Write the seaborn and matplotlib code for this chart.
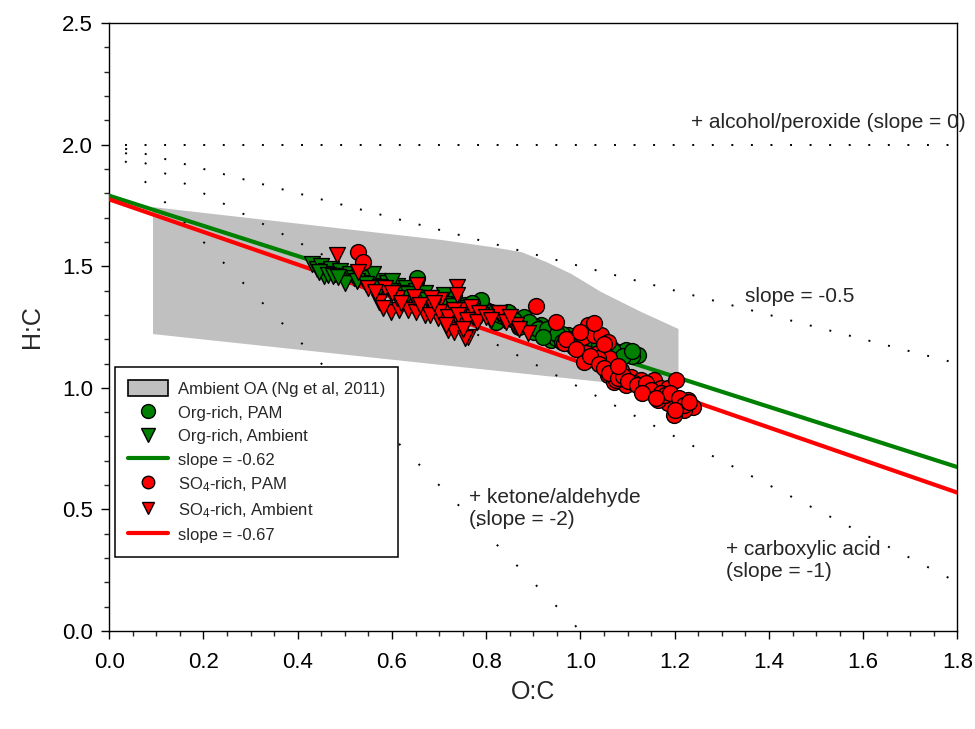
import numpy as np
import pandas as pd
import matplotlib
matplotlib.use("Agg")
import matplotlib.pyplot as plt
import seaborn as sns
from matplotlib.patches import Patch
from matplotlib.lines import Line2D
from matplotlib.ticker import MultipleLocator, FormatStrFormatter

# ---------------- data ----------------
# Ambient OA region (Ng et al, 2011)
region_oc = [0.093, 0.705, 0.811, 0.875, 0.928, 0.981, 1.044, 1.129, 1.208, 1.208, 0.705, 0.093]
region_hc = [1.743, 1.608, 1.579, 1.558, 1.517, 1.468, 1.394, 1.312, 1.242, 0.991, 1.094, 1.221]

# Van Krevelen reference lines from (0, 2)
ref_slopes = [0.0, -0.5, -1.0, -2.0]
ref_xend = [1.8, 1.8, 1.8, 1.0]
ref_origin_hc = 2.0

# Org-rich, PAM
org_pam_oc = [0.654, 0.731, 0.799, 0.820, 0.848, 0.867, 0.890, 0.901, 0.916, 0.931,
              0.937, 0.952, 0.973, 0.990, 1.018, 1.043, 1.079, 1.101, 1.122, 0.922,
              0.986, 1.022, 0.846, 0.873, 0.948, 1.065, 1.096, 1.043, 0.788, 0.756,
              0.840, 0.880, 0.960, 1.000, 1.060, 0.905, 1.110,
              0.770, 0.810, 0.830, 0.860, 0.890, 0.910, 0.930, 0.950, 0.970, 0.980,
              1.000, 1.020, 1.040, 1.050, 1.070, 1.090, 1.110, 0.870, 0.920, 0.960]
org_pam_hc = [1.451, 1.382, 1.320, 1.271, 1.308, 1.271, 1.258, 1.229, 1.258, 1.217,
              1.197, 1.205, 1.217, 1.176, 1.176, 1.164, 1.147, 1.143, 1.135, 1.225,
              1.168, 1.155, 1.312, 1.266, 1.205, 1.164, 1.155, 1.135, 1.361, 1.340,
              1.290, 1.290, 1.220, 1.200, 1.140, 1.250, 1.130,
              1.350, 1.310, 1.300, 1.280, 1.270, 1.240, 1.240, 1.220, 1.190, 1.200,
              1.180, 1.160, 1.180, 1.150, 1.150, 1.130, 1.150, 1.250, 1.210, 1.190]

# Org-rich, Ambient
org_amb_oc = [0.430, 0.440, 0.450, 0.460, 0.455, 0.470, 0.480, 0.490, 0.500, 0.510,
              0.520, 0.530, 0.540, 0.550, 0.560, 0.570, 0.580, 0.590, 0.600, 0.610,
              0.620, 0.630, 0.640, 0.650, 0.660, 0.670, 0.680, 0.700, 0.720, 0.740,
              0.760, 0.780, 0.630, 0.560, 0.600, 0.500, 0.660, 0.710,
              0.445, 0.465, 0.475, 0.485, 0.525, 0.545, 0.575, 0.595, 0.615, 0.635,
              0.655, 0.675, 0.690, 0.710, 0.730, 0.750, 0.770, 0.790]
org_amb_hc = [1.510, 1.490, 1.500, 1.480, 1.460, 1.490, 1.470, 1.480, 1.460, 1.470,
              1.450, 1.460, 1.440, 1.450, 1.430, 1.440, 1.420, 1.430, 1.410, 1.420,
              1.400, 1.410, 1.390, 1.400, 1.380, 1.390, 1.370, 1.360, 1.340, 1.330,
              1.310, 1.300, 1.370, 1.470, 1.440, 1.430, 1.360, 1.380,
              1.475, 1.465, 1.460, 1.455, 1.440, 1.425, 1.415, 1.400, 1.390, 1.385,
              1.370, 1.360, 1.350, 1.345, 1.335, 1.320, 1.315, 1.300]

# SO4-rich, PAM
so4_pam_oc = [0.527, 0.538, 0.905, 0.948, 0.965, 1.016, 1.005, 1.028, 1.043, 1.058,
              1.011, 1.037, 1.060, 1.058, 1.086, 1.107, 1.071, 1.096, 1.128, 1.135,
              1.156, 1.171, 1.186, 1.203, 1.192, 1.207, 1.209, 1.228, 1.239, 1.220,
              1.198, 1.186, 1.164, 1.007, 1.037, 1.113, 1.075, 1.028,
              0.970, 0.990, 1.020, 1.040, 1.050, 1.060, 1.080, 1.090, 1.100, 1.120,
              1.140, 1.150, 1.170, 1.180, 1.190, 1.210, 1.220, 1.200, 1.230, 1.050,
              1.080, 1.000, 1.130, 1.160]
so4_pam_hc = [1.558, 1.517, 1.336, 1.271, 1.184, 1.258, 1.209, 1.217, 1.217, 1.188,
              1.143, 1.143, 1.123, 1.053, 1.073, 1.044, 1.024, 1.012, 1.032, 0.999,
              1.032, 0.999, 0.999, 1.032, 0.962, 0.950, 0.921, 0.950, 0.921, 0.909,
              0.888, 0.938, 0.950, 1.106, 1.123, 1.020, 1.032, 1.266,
              1.200, 1.160, 1.130, 1.100, 1.080, 1.060, 1.040, 1.050, 1.030, 1.010,
              1.020, 0.990, 0.980, 0.970, 0.980, 0.960, 0.930, 0.910, 0.940, 1.180,
              1.090, 1.230, 0.980, 0.960]

# SO4-rich, Ambient
so4_amb_oc = [0.484, 0.529, 0.550, 0.586, 0.572, 0.597, 0.614, 0.633, 0.650, 0.654,
              0.646, 0.671, 0.686, 0.703, 0.697, 0.718, 0.729, 0.739, 0.752, 0.752,
              0.771, 0.782, 0.761, 0.824, 0.837, 0.858, 0.888, 0.739, 0.682, 0.688,
              0.720, 0.731, 0.767, 0.784, 0.710, 0.742, 0.720, 0.731, 0.756, 0.739,
              0.827, 0.841, 0.863, 0.565, 0.610, 0.580,
              0.600, 0.620, 0.660, 0.680, 0.700, 0.720, 0.740, 0.760, 0.780, 0.800,
              0.690, 0.750, 0.715, 0.810, 0.850, 0.870]
so4_amb_hc = [1.546, 1.476, 1.410, 1.410, 1.352, 1.312, 1.320, 1.320, 1.312, 1.423,
              1.373, 1.299, 1.332, 1.361, 1.287, 1.312, 1.271, 1.320, 1.258, 1.320,
              1.291, 1.308, 1.209, 1.308, 1.279, 1.258, 1.225, 1.414, 1.369, 1.332,
              1.308, 1.320, 1.332, 1.308, 1.279, 1.270, 1.238, 1.230, 1.205, 1.382,
              1.308, 1.271, 1.258, 1.395, 1.370, 1.330,
              1.390, 1.350, 1.340, 1.300, 1.310, 1.290, 1.300, 1.280, 1.270, 1.290,
              1.350, 1.240, 1.260, 1.280, 1.290, 1.240]

# linear fits
fit_oc = [0.0, 1.8]
org_fit_slope, org_fit_int = -0.62, 1.79
so4_fit_slope, so4_fit_int = -0.67, 1.775

legend_labels = ["Ambient OA (Ng et al, 2011)", "Org-rich, PAM", "Org-rich, Ambient",
                 "slope = -0.62", "SO$_4$-rich, PAM", "SO$_4$-rich, Ambient", "slope = -0.67"]

# ---------------- style ----------------
sns.set_theme(style="ticks")
plt.rcParams["font.family"] = ["Liberation Sans", "DejaVu Sans"]
plt.rcParams["mathtext.default"] = "regular"
plt.rcParams["axes.linewidth"] = 1.0

GREEN = "#008000"
RED = "#FF0000"
GRAY = "#C0C0C0"

fig = plt.figure(figsize=(9.75, 7.29), dpi=100)
ax = fig.add_axes([0.112, 0.1344, 0.870, 0.834])

# region
ax.fill(region_oc, region_hc, color=GRAY, lw=0, zorder=1)

# reference dotted lines
k = (0.834 * 729 / 2.5) / (0.870 * 975 / 1.8)
lw_dot = 1.4
for sl, xe in zip(ref_slopes, ref_xend):
    fac = np.sqrt(1 + (sl * k) ** 2)
    period_pt = 19.56 * fac * 0.72
    first_pt = 16.0 * fac * 0.72
    on = 1.0
    off = period_pt / lw_dot - on
    offset = (period_pt - first_pt) / lw_dot
    xs = np.array([0.0, xe])
    ax.plot(xs, ref_origin_hc + sl * xs, color="black", lw=lw_dot,
            linestyle=(offset, (on, off)), dash_capstyle="butt", zorder=2)

# fit lines
fx = np.array(fit_oc)
sns.lineplot(x=fx, y=org_fit_int + org_fit_slope * fx, color=GREEN, lw=3, ax=ax, zorder=3)
sns.lineplot(x=fx, y=so4_fit_int + so4_fit_slope * fx, color=RED, lw=3, ax=ax, zorder=3)

# scatter
S = 130
sns.scatterplot(x=org_pam_oc, y=org_pam_hc, marker="o", color=GREEN, edgecolor="black",
                linewidth=1, s=S, ax=ax, zorder=4)
sns.scatterplot(x=org_amb_oc, y=org_amb_hc, marker="v", color=GREEN, edgecolor="black",
                linewidth=1, s=S, ax=ax, zorder=5)
sns.scatterplot(x=so4_pam_oc, y=so4_pam_hc, marker="o", color=RED, edgecolor="black",
                linewidth=1, s=S, ax=ax, zorder=6)
sns.scatterplot(x=so4_amb_oc, y=so4_amb_hc, marker="v", color=RED, edgecolor="black",
                linewidth=1, s=S, ax=ax, zorder=7)

# annotations
tfs = 15
ax.text(1.235, 2.093, "+ alcohol/peroxide (slope = 0)", fontsize=tfs, va="center", ha="left")
ax.text(1.349, 1.377, "slope = -0.5", fontsize=tfs, va="center", ha="left")
ax.text(0.763, 0.504, "+ ketone/aldehyde\n(slope = -2)", fontsize=tfs, va="center", ha="left")
ax.text(1.309, 0.292, "+ carboxylic acid\n(slope = -1)", fontsize=tfs, va="center", ha="left")

# axes
ax.set_xlim(0, 1.8)
ax.set_ylim(0, 2.5)
ax.xaxis.set_major_locator(MultipleLocator(0.2))
ax.xaxis.set_minor_locator(MultipleLocator(0.05))
ax.yaxis.set_major_locator(MultipleLocator(0.5))
ax.yaxis.set_minor_locator(MultipleLocator(0.1))
ax.xaxis.set_major_formatter(FormatStrFormatter("%.1f"))
ax.yaxis.set_major_formatter(FormatStrFormatter("%.1f"))
ax.tick_params(which="major", direction="out", length=5.8, width=1, labelsize=16,
               top=False, right=False, colors="black")
ax.tick_params(which="minor", direction="out", length=3.6, width=1, top=False, right=False)
ax.tick_params(axis="x", which="major", pad=9)
ax.tick_params(axis="y", which="major", pad=6)
for sp in ax.spines.values():
    sp.set_visible(True)
    sp.set_color("black")
    sp.set_linewidth(1.0)
ax.set_xlabel("O:C", fontsize=18, labelpad=5)
ax.set_ylabel("H:C", fontsize=18, labelpad=13)

# legend
handles = [
    Patch(facecolor=GRAY, edgecolor="black", linewidth=1.2),
    Line2D([], [], marker="o", color=GREEN, markeredgecolor="black", linestyle="none", markersize=10),
    Line2D([], [], marker="v", color=GREEN, markeredgecolor="black", linestyle="none", markersize=10),
    Line2D([], [], color=GREEN, lw=3),
    Line2D([], [], marker="o", color=RED, markeredgecolor="black", linestyle="none", markersize=9),
    Line2D([], [], marker="v", color=RED, markeredgecolor="black", linestyle="none", markersize=8.5),
    Line2D([], [], color=RED, lw=3),
]
leg = ax.legend(handles, legend_labels, loc="upper left", bbox_to_anchor=(0.007, 0.434),
                borderaxespad=0, frameon=True, fancybox=False, framealpha=1,
                edgecolor="black", fontsize=12, handlelength=2.4, handleheight=1.1,
                handletextpad=0.55, borderpad=0.8, labelspacing=0.42)
leg.get_frame().set_linewidth(1.1)
leg.set_zorder(10)

fig.savefig("out.png", dpi=100)
